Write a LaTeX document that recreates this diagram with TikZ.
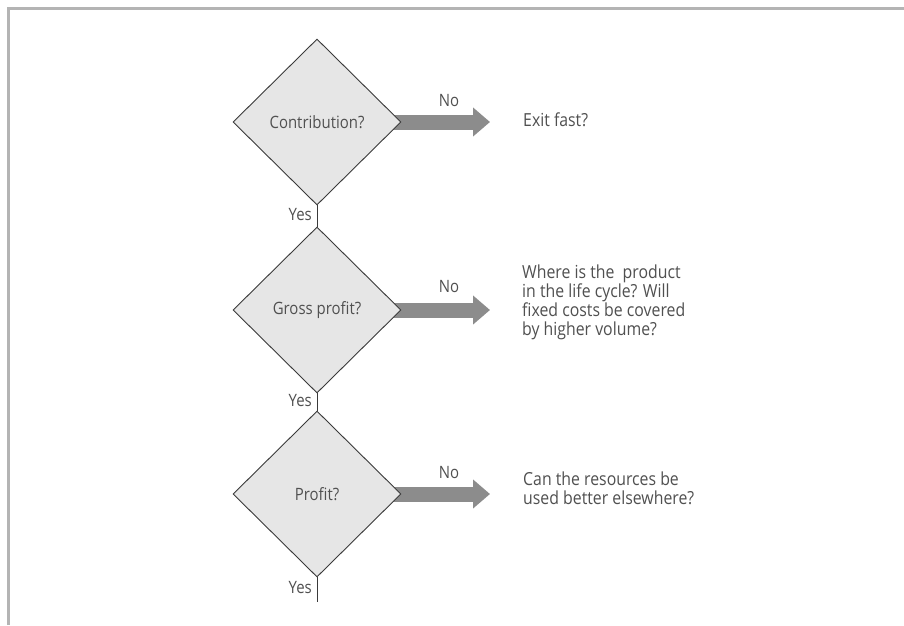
\documentclass[tikz,border=0pt]{standalone}
\usepackage{fontspec}
\setmainfont{Open Sans}[FakeStretch=0.88]
\usetikzlibrary{shapes.geometric,arrows.meta}
\pgfdeclarelayer{background}
\pgfsetlayers{background,main}
\definecolor{framegrey}{HTML}{B4B4B4}
\definecolor{boxfill}{HTML}{E6E6E6}
\definecolor{edgegrey}{HTML}{3A3A3A}
\definecolor{textgrey}{HTML}{505050}
\definecolor{arrowgrey}{HTML}{8C8C8C}
\tikzset{
  decision/.style={diamond, draw=edgegrey, fill=boxfill, line width=0.9pt,
    minimum width=168pt, minimum height=166pt, inner sep=0pt,
    text=textgrey, font=\fontsize{17}{19}\selectfont},
  lbl/.style={text=textgrey, font=\fontsize{17}{19}\selectfont, inner sep=0pt},
  note/.style={text=textgrey, font=\fontsize{18}{19}\selectfont, inner sep=0pt,
    align=left, anchor=north west},
  stem/.style={draw=edgegrey, line width=0.9pt},
  fatarrow/.style={draw=arrowgrey, line width=15pt,
    -{Triangle[length=17pt,width=28pt]}},
}
\begin{document}
\begin{tikzpicture}[x=1pt,y=-1pt]
\useasboundingbox (0,0) rectangle (904,625);
% decision diamonds
\node[decision] (d1) at (317,122) {Contribution?};
\node[decision] (d2) at (317,310) {Gross profit?};
\node[decision] (d3) at (317,494) {Profit?};

% targets of the "No" arrows
\coordinate (t1) at (490,122);
\coordinate (t2) at (490,310);
\coordinate (t3) at (490,494);
\coordinate (e3) at (317,602);

\begin{pgfonlayer}{background}
  \fill[white] (0,0) rectangle (904,625);
  % frame lines along the top and left edges
  \draw[framegrey, line width=3pt] (8.5,625) -- (8.5,8.5) -- (904,8.5);
  \draw[fatarrow] ([xshift=-12pt]d1.east) -- (t1);
  \draw[fatarrow] ([xshift=-12pt]d2.east) -- (t2);
  \draw[fatarrow] ([xshift=-12pt]d3.east) -- (t3);
\end{pgfonlayer}

% "Yes" stems
\draw[stem] (d1.south) -- (d2.north);
\draw[stem] (d2.south) -- (d3.north);
\draw[stem] (d3.south) -- (e3);

% branch labels
\node[lbl, anchor=east] (y1) at (312,215) {Yes};
\node[lbl, anchor=east] (y2) at (312,401) {Yes};
\node[lbl, anchor=east] (y3) at (312,588) {Yes};
\node[lbl] (n1) at (449,101) {No};
\node[lbl] (n2) at (449,287) {No};
\node[lbl] (n3) at (449,473) {No};

% outcome texts
\node[note] (o1) at (523,113) {Exit fast?};
\node[note] (o2) at (522,265) {Where is the\ \ product\\in the life cycle? Will\\fixed costs be covered\\by higher volume?};
\node[note] (o3) at (523,472) {Can the resources be\\used better elsewhere?};
\end{tikzpicture}
\end{document}
